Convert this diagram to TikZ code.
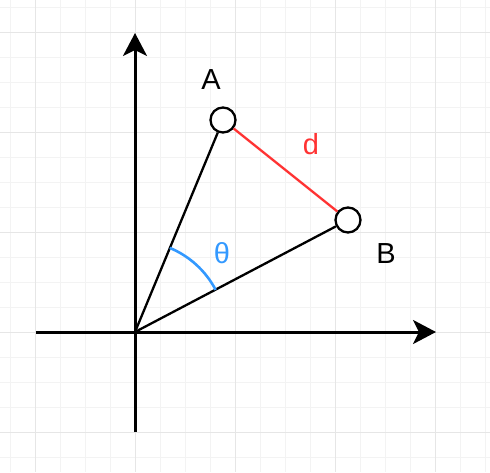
\documentclass[tikz,border=0pt]{standalone}
\usepackage{fontspec}
\setmainfont{Liberation Sans}
\usetikzlibrary{arrows.meta}
\definecolor{gridminor}{HTML}{F3F3F3}
\definecolor{gridmajor}{HTML}{E6E6E6}
\definecolor{dred}{HTML}{FF3333}
\definecolor{dblue}{HTML}{3399FF}
\begin{document}
\begin{tikzpicture}[x=1pt,y=-1pt,
  axis/.style={line width=3pt,-{Stealth[length=23pt,width=24pt,inset=6pt]}},
  pt/.style={circle,draw,line width=2.3pt,fill=white,minimum size=25pt,inner sep=0pt},
  lbl/.style={font=\fontsize{29}{32}\selectfont,inner sep=0pt},
  seg/.style={line width=2.3pt}]
\useasboundingbox (0,0) rectangle (490,472);
\fill[white] (0,0) rectangle (490,472);
\foreach \x in {10,35,...,485} \draw[gridminor,line width=1pt] (\x,0) -- (\x,472);
\foreach \y in {7,32,...,470} \draw[gridminor,line width=1pt] (0,\y) -- (490,\y);
\foreach \x in {35,135,235,335,435} \draw[gridmajor,line width=1pt] (\x,0) -- (\x,472);
\foreach \y in {32,132,232,332,432} \draw[gridmajor,line width=1pt] (0,\y) -- (490,\y);
\coordinate (O) at (135,332);
\coordinate (ybot) at (135,432);
\coordinate (ytop) at (135,33);
\coordinate (xleft) at (36,332);
\coordinate (xright) at (436,332);
\draw[axis] (ybot) -- (ytop);
\draw[axis] (xleft) -- (xright);
\node[pt] (A) at (223,120) {};
\node[pt] (B) at (348,220) {};
\draw[seg] (O) -- (A);
\draw[seg] (O) -- (B);
\draw[seg,dred] (A) -- (B);
\draw[line width=2.6pt,dblue] ([shift={(-27.6:91)}]O) arc[start angle=-27.6,end angle=-67.5,radius=91];
\node[lbl] (la) at (211,80) {A};
\node[lbl] (lb) at (386,254) {B};
\node[lbl,text=dred] (ld) at (311,144) {d};
\node[lbl,text=dblue] (lt) at (222,253) {θ};
\end{tikzpicture}
\end{document}
